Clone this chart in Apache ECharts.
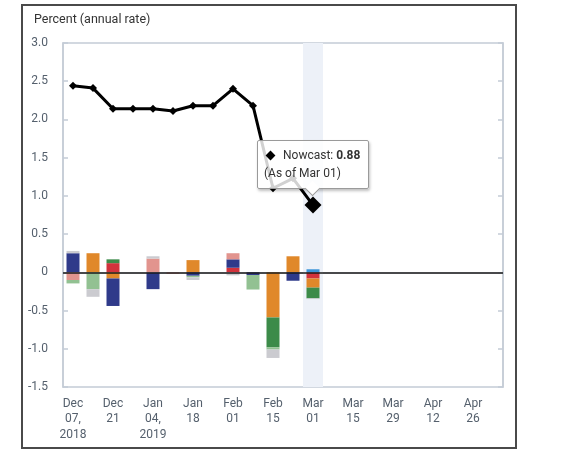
<!DOCTYPE html>
<html>
<head>
<meta charset="utf-8">
<script src="https://cdn.jsdelivr.net/npm/echarts@6/dist/echarts.min.js"></script>
<style>
html,body{margin:0;padding:0;background:#fff;}
#chart{width:580px;height:460px;}
</style>
</head>
<body>
<div id="chart"></div>
<script>
// Weekly categories (Fridays)
var weeks = ['Dec 07','Dec 14','Dec 21','Dec 28','Jan 04','Jan 11','Jan 18','Jan 25','Feb 01','Feb 08','Feb 15','Feb 22','Mar 01','Mar 08','Mar 15','Mar 22','Mar 29','Apr 05','Apr 12','Apr 19','Apr 26','May 03'];
// Tick labels shown on every second week
var tickLabels = {'Dec 07':'Dec\n07,\n2018','Dec 21':'Dec\n21','Jan 04':'Jan\n04,\n2019','Jan 18':'Jan\n18','Feb 01':'Feb\n01','Feb 15':'Feb\n15','Mar 01':'Mar\n01','Mar 15':'Mar\n15','Mar 29':'Mar\n29','Apr 12':'Apr\n12','Apr 26':'Apr\n26'};
var yTicks = [3.0, 2.5, 2.0, 1.5, 1.0, 0.5, 0, -0.5, -1.0, -1.5];

// Nowcast line
var nowcast = [2.44, 2.41, 2.14, 2.14, 2.14, 2.11, 2.18, 2.18, 2.40, 2.18, 1.10, 1.23, 0.88, null, null, null, null, null, null, null, null, null];
var highlightWeek = 'Mar 01';

// Impact components (stacked bars)
var compRed       = [null, null, 0.12, null, null, null, null, null, 0.06, null, null, null, -0.08];
var compOrange    = [null, 0.25, -0.08, null, null, null, 0.16, null, null, null, -0.59, 0.21, -0.12];
var compNavy      = [0.25, null, -0.36, null, -0.22, null, -0.045, null, 0.11, -0.035, null, -0.11, null];
var compGreen     = [null, null, 0.05, null, null, null, null, null, null, null, -0.39, null, -0.14];
var compPink      = [-0.10, null, null, null, 0.18, -0.02, null, null, 0.08, null, null, null, null];
var compLightGreen= [-0.045, -0.22, null, null, null, null, -0.02, null, null, -0.19, -0.03, null, null];
var compGrey      = [0.03, -0.10, null, null, 0.03, null, -0.035, null, -0.04, null, -0.11, null, -0.01];
var compLightBlue = [null, null, null, null, null, null, null, null, null, null, null, null, 0.04];

var FONT = 'Roboto';
var labelColor = '#55606d';
var axisColor = '#c4ccd6';

var comps = [
  ['Red', compRed, '#d1323c'],
  ['Orange', compOrange, '#e0882a'],
  ['Navy', compNavy, '#2f3a8a'],
  ['Green', compGreen, '#3c8b49'],
  ['Pink', compPink, '#e2948e'],
  ['Light green', compLightGreen, '#92c192'],
  ['Grey', compGrey, '#cbcbd0'],
  ['Light blue', compLightBlue, '#3a94d8']
];

var series = [];
series.push({
  type: 'line', xAxisIndex: 1, yAxisIndex: 0, data: [], silent: true,
  markArea: {
    silent: true,
    itemStyle: {color: '#edf1f8'},
    data: [[{xAxis: weeks.indexOf(highlightWeek) - 0.5}, {xAxis: weeks.indexOf(highlightWeek) + 0.5}]]
  },
  z: 0
});
comps.forEach(function (c, i) {
  var s = {
    name: c[0], type: 'bar', stack: 'impact', data: c[1],
    barWidth: 13, itemStyle: {color: c[2]}, silent: true, z: 2
  };
  if (i === 0) {
    s.markLine = {
      silent: true, symbol: 'none', label: {show: false},
      lineStyle: {color: '#1a1a1a', width: 1.5, type: 'solid'},
      data: [{yAxis: 0}]
    };
  }
  series.push(s);
});
var lastIdx = weeks.indexOf(highlightWeek);
series.push({
  name: 'Nowcast', type: 'line', data: nowcast.map(function (v, i) {
    return i === lastIdx ? {value: v, symbolSize: 17} : v;
  }),
  symbol: 'diamond', symbolSize: 8, showSymbol: true, showAllSymbol: true,
  lineStyle: {color: '#000', width: 3},
  itemStyle: {color: '#000'},
  z: 5,
  tooltip: {
    formatter: function (p) {
      return '<div style="white-space:nowrap;line-height:19px">' +
        '<span style="display:inline-block;width:7px;height:7px;background:#000;transform:rotate(45deg);margin:0 9px 1px 3px;vertical-align:middle"></span>' +
        'Nowcast: <b>' + p.value.toFixed(2) + '</b></div>' +
        '<div style="white-space:nowrap;line-height:17px">(As of ' + p.name + ')</div>' +
        '<div style="position:absolute;left:50%;bottom:-6px;width:10px;height:10px;margin-left:-6px;background:#fff;border-right:1px solid #9a9a9a;border-bottom:1px solid #9a9a9a;transform:rotate(45deg)"></div>';
    }
  }
});

var chart = echarts.init(document.getElementById('chart'), null, {renderer: 'canvas'});
chart.setOption({
  animation: false,
  backgroundColor: '#fff',
  textStyle: {fontFamily: FONT},
  title: {
    text: 'Percent (annual rate)', left: 29, top: 8,
    textStyle: {fontFamily: FONT, fontSize: 12.5, fontWeight: 'normal', color: '#333'}
  },
  graphic: [{
    type: 'rect', shape: {x: 22, y: 5, width: 494, height: 443}, silent: true,
    style: {fill: 'none', stroke: '#4a4a4a', lineWidth: 2}, z: 100
  }],
  grid: {left: 63, top: 43, right: 77, bottom: 73, show: true, borderColor: axisColor, borderWidth: 1.5, backgroundColor: 'transparent'},
  tooltip: {
    trigger: 'item', triggerOn: 'none', alwaysShowContent: true,
    confine: false, transitionDuration: 0, showDelay: 0,
    position: function (point, params, dom, rect, size) {
      var w = size.contentSize[0], h = size.contentSize[1];
      var cx = rect ? rect.x + rect.width / 2 : point[0];
      var top = rect ? rect.y : point[1];
      return [cx - w / 2, top - h - 8];
    },
    backgroundColor: 'rgba(255,255,255,0.82)', borderColor: '#9a9a9a', borderWidth: 1,
    padding: [5, 8, 6, 6],
    extraCssText: 'border-radius:2px;box-shadow:1px 2px 3px rgba(0,0,0,0.25);',
    textStyle: {fontFamily: FONT, fontSize: 12, color: '#333'}
  },
  xAxis: [{
    type: 'category', data: weeks, boundaryGap: true,
    axisLine: {lineStyle: {color: axisColor, width: 1.5}},
    axisTick: {interval: 1, alignWithLabel: true, length: 6, lineStyle: {color: axisColor, width: 1.5}},
    axisLabel: {
      interval: 1, color: labelColor, fontFamily: FONT, fontSize: 12, lineHeight: 15.5, margin: 9,
      formatter: function (v) { return tickLabels[v] || ''; }
    },
    splitLine: {show: false}
  }, {
    type: 'value', show: false, min: -0.5, max: weeks.length - 0.5
  }],
  yAxis: [{
    type: 'value', min: -1.5, max: 3.0, interval: 0.5, position: 'left',
    axisLine: {show: true, onZero: false, lineStyle: {color: axisColor, width: 1.5}},
    axisTick: {show: true, inside: true, length: 5, lineStyle: {color: axisColor, width: 1.5}},
    axisLabel: {
      color: labelColor, fontFamily: FONT, fontSize: 12, margin: 15,
      formatter: function (v) { var t = yTicks.filter(function (k) { return Math.abs(k - v) < 1e-9; })[0]; return t === 0 ? '0' : (t !== undefined ? t.toFixed(1) : ''); }
    },
    splitLine: {show: false}
  }, {
    type: 'value', min: -1.5, max: 3.0, interval: 0.5, position: 'right',
    axisLine: {show: true, onZero: false, lineStyle: {color: axisColor, width: 1.5}},
    axisTick: {show: true, inside: true, length: 5, lineStyle: {color: axisColor, width: 1.5}},
    axisLabel: {show: false},
    splitLine: {show: false}
  }],
  series: series
});
var nowcastSeriesIndex = series.length - 1;
chart.dispatchAction({type: 'showTip', seriesIndex: nowcastSeriesIndex, dataIndex: lastIdx});
</script>
</body>
</html>
